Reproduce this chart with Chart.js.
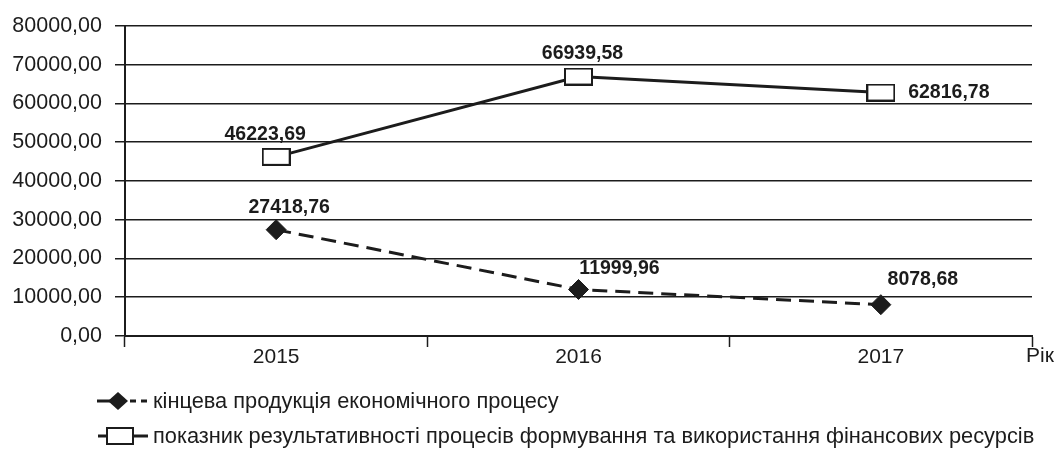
<!DOCTYPE html>
<html>
<head>
<meta charset="utf-8">
<script src="https://cdn.jsdelivr.net/npm/chart.js@4/dist/chart.umd.min.js"></script>
<style>
    html, body { margin: 0; padding: 0; background: #fff; }
    #wrap { width: 1059px; height: 450px; position: relative; }
</style>
</head>
<body>
<div id="wrap"><canvas id="chart"></canvas></div>
<script>
const years = ['2015', '2016', '2017']
const finalProduct = [27418.76, 11999.96, 8078.68]
const efficiency = [46223.69, 66939.58, 62816.78]
const seriesNames = [
    'кінцева продукція економічного процесу',
    'показник результативності процесів формування та використання фінансових ресурсів'
]
const axisUnit = 'Рік'

const INK = '#1c1c1c'
const FONT = '"Liberation Sans", Arial, sans-serif'

const fmt = v => v.toFixed(2).replace('.', ',')

// open box marker for the efficiency series
const boxMarker = (() => {
    const c = document.createElement('canvas')
    c.width = 29
    c.height = 18
    const g = c.getContext('2d')
    g.fillStyle = '#fff'
    g.fillRect(1, 1, 27, 16)
    g.strokeStyle = INK
    g.lineWidth = 2
    g.strokeRect(1, 1, 27, 16)
    return c
})()

// value labels, offsets relative to each point
const valueLabels = {
    id: 'valueLabels',
    afterDatasetsDraw(chart, args, opts) {
        const ctx = chart.ctx
        ctx.save()
        ctx.font = 'bold 19.5px ' + FONT
        ctx.fillStyle = INK
        ctx.textAlign = 'center'
        ctx.textBaseline = 'middle'
        chart.data.datasets.forEach((ds, di) => {
            const meta = chart.getDatasetMeta(di)
            meta.data.forEach((pt, i) => {
                const [dx, dy] = opts.offsets[di][i]
                ctx.fillText(fmt(ds.data[i]), pt.x + dx, pt.y + dy)
            })
        })
        ctx.restore()
    }
}

// axis unit and the two-row legend under the plot
const extras = {
    id: 'extras',
    afterDraw(chart) {
        const ctx = chart.ctx
        const area = chart.chartArea
        ctx.save()
        ctx.fillStyle = INK
        ctx.font = '21px ' + FONT
        ctx.textBaseline = 'middle'
        ctx.textAlign = 'left'
        ctx.fillText(axisUnit, area.right - 6, 356)

        const lx = 97
        const row1 = 401
        const row2 = 436
        ctx.strokeStyle = INK
        ctx.lineWidth = 3

        // row 1: line + diamond + dash
        ctx.beginPath()
        ctx.moveTo(lx, row1)
        ctx.lineTo(lx + 14, row1)
        ctx.moveTo(lx + 33, row1)
        ctx.lineTo(lx + 39, row1)
        ctx.moveTo(lx + 44, row1)
        ctx.lineTo(lx + 50, row1)
        ctx.stroke()
        ctx.beginPath()
        ctx.moveTo(lx + 21, row1 - 9)
        ctx.lineTo(lx + 31, row1)
        ctx.lineTo(lx + 21, row1 + 9)
        ctx.lineTo(lx + 11, row1)
        ctx.closePath()
        ctx.fill()

        // row 2: line through an open box
        ctx.beginPath()
        ctx.moveTo(lx + 1, row2)
        ctx.lineTo(lx + 51, row2)
        ctx.stroke()
        ctx.fillStyle = '#fff'
        ctx.fillRect(lx + 10, row2 - 8, 26, 16)
        ctx.lineWidth = 2
        ctx.strokeRect(lx + 10, row2 - 8, 26, 16)

        ctx.fillStyle = INK
        ctx.font = '21.8px ' + FONT
        ctx.fillText(seriesNames[0], lx + 56, row1 + 1)
        ctx.fillText(seriesNames[1], lx + 56, row2 + 1)
        ctx.restore()
    }
}

new Chart(document.getElementById('chart'), {
    type: 'line',
    data: {
        labels: years,
        datasets: [
            {
                label: seriesNames[0],
                data: finalProduct,
                borderColor: INK,
                borderWidth: 3,
                borderDash: [15, 8],
                pointStyle: 'rectRot',
                pointRadius: 10,
                pointBackgroundColor: INK,
                pointBorderColor: INK,
                pointBorderWidth: 1,
                tension: 0
            },
            {
                label: seriesNames[1],
                data: efficiency,
                borderColor: INK,
                borderWidth: 3,
                pointStyle: boxMarker,
                pointRadius: 12,
                tension: 0
            }
        ]
    },
    options: {
        responsive: true,
        maintainAspectRatio: false,
        animation: false,
        events: [],
        layout: {padding: {top: 23, right: 27, bottom: 84, left: 10}},
        plugins: {
            legend: {display: false},
            tooltip: {enabled: false},
            valueLabels: {
                offsets: [
                    [[13, -22], [41, -21], [42, -25]],
                    [[-11, -22], [4, -23], [68, 0]]
                ]
            }
        },
        scales: {
            x: {
                offset: true,
                afterFit: s => { s.height = 30 },
                grid: {
                    offset: true,
                    drawOnChartArea: false,
                    tickLength: 11,
                    tickWidth: 1.5,
                    tickColor: INK
                },
                border: {color: INK, width: 2},
                ticks: {color: INK, font: {family: FONT, size: 21}, padding: -2}
            },
            y: {
                min: 0,
                max: 80000,
                afterFit: s => { s.width = 115 },
                grid: {
                    color: INK,
                    lineWidth: 1.5,
                    tickLength: 10
                },
                border: {color: INK, width: 2},
                ticks: {
                    stepSize: 10000,
                    color: INK,
                    padding: 13,
                    font: {family: FONT, size: 21.5},
                    callback: v => fmt(v)
                }
            }
        }
    },
    plugins: [valueLabels, extras]
})
</script>
</body>
</html>
